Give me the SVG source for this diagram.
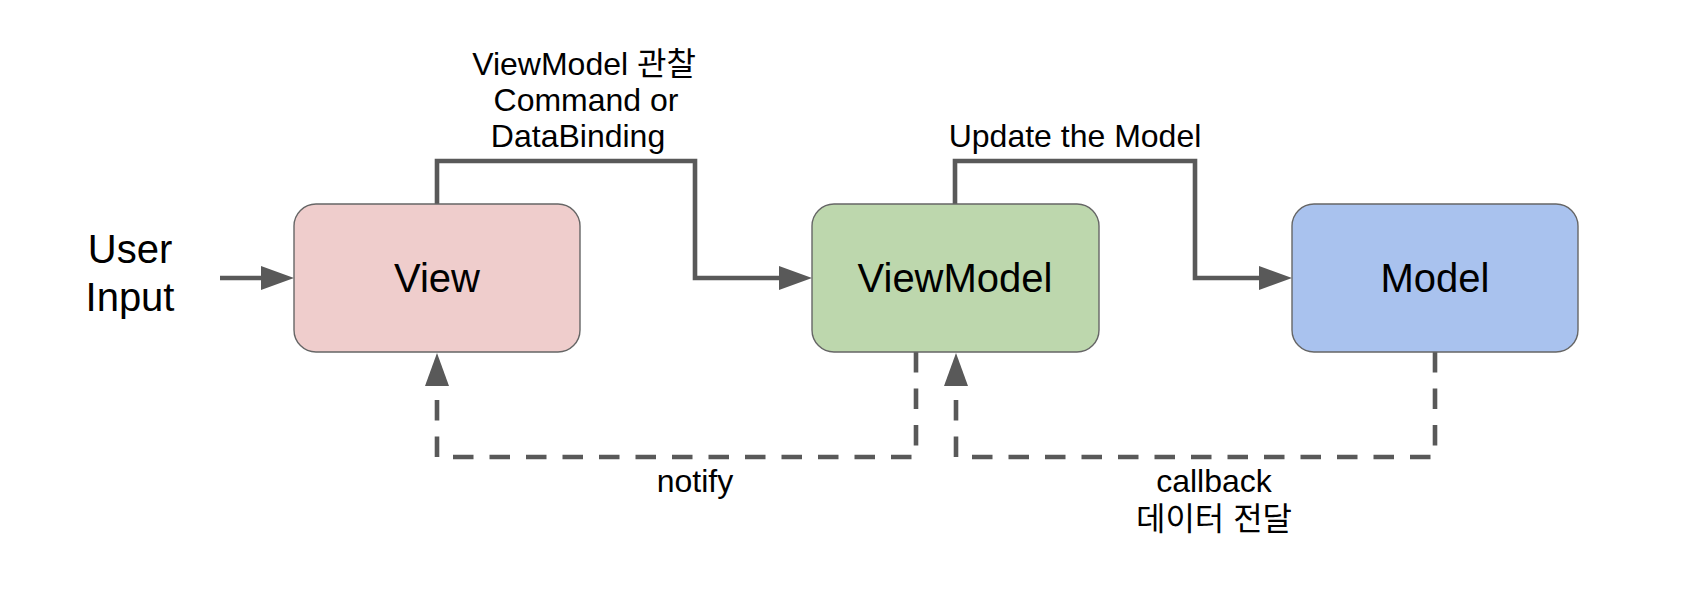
<svg xmlns="http://www.w3.org/2000/svg" width="1702" height="598" viewBox="0 0 1702 598">
<style>
.box{stroke:#666666;stroke-width:1.4}
.t{font-family:"Liberation Sans",Arial,"Noto Sans CJK KR",sans-serif;fill:#000;text-anchor:middle}
.big{font-size:40px}
.lbl{font-size:32px}
.ln{fill:none;stroke:#595959;stroke-width:4.6;stroke-linejoin:miter}
.dash{stroke-dasharray:20.5 16}
</style>
<defs>
<marker id="ah" viewBox="0 0 33 24" refX="0" refY="12" markerWidth="33" markerHeight="24" markerUnits="userSpaceOnUse" orient="auto">
<path d="M0,0 L33,12 L0,24 Z" fill="#595959"/>
</marker>
</defs>
<rect width="1702" height="598" fill="#ffffff"/>
<g id="connectors">
<path class="ln" d="M220,278 H261" marker-end="url(#ah)"/>
<path class="ln" d="M437,204 V161 H695 V278 H779" marker-end="url(#ah)"/>
<path class="ln" d="M955,204 V161 H1195 V278 H1259" marker-end="url(#ah)"/>
<path class="ln dash" d="M916,352 V457 H437 V386" marker-end="url(#ah)"/>
<path class="ln dash" d="M1435,352 V457 H956 V386" marker-end="url(#ah)"/>
</g>
<g id="user-input">
<text class="t big" x="130" y="263">User</text>
<text class="t big" x="130" y="311">Input</text>
</g>
<g id="view">
<rect class="box" x="294" y="204" width="286" height="148" rx="22" fill="#efcdcc"/>
<text class="t big" x="437" y="292">View</text>
</g>
<g id="viewmodel">
<rect class="box" x="812" y="204" width="287" height="148" rx="22" fill="#bdd7ad"/>
<text class="t big" x="955" y="292">ViewModel</text>
</g>
<g id="model">
<rect class="box" x="1292" y="204" width="286" height="148" rx="22" fill="#a9c2ee"/>
<text class="t big" x="1435" y="292">Model</text>
</g>
<g id="labels">
<text class="t lbl" x="584" y="75">ViewModel 관찰</text>
<text class="t lbl" x="586" y="111">Command or</text>
<text class="t lbl" x="578" y="147">DataBinding</text>
<text class="t lbl" x="1075" y="147">Update the Model</text>
<text class="t lbl" x="695" y="492">notify</text>
<text class="t lbl" x="1214" y="492">callback</text>
<text class="t lbl" x="1214" y="530">데이터 전달</text>
</g>
</svg>
